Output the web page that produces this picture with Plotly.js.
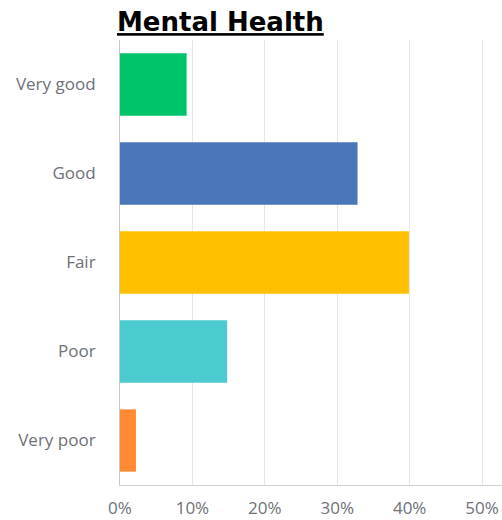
<!DOCTYPE html>
<html>
<head>
<meta charset="utf-8">
<script src="https://cdn.plot.ly/plotly-3.0.1.min.js"></script>
<style>
  html, body { margin: 0; padding: 0; background: #fff; }
  #chart { width: 502px; height: 520px; }
</style>
</head>
<body>
<div id="chart"></div>
<script>
var categories = ["Very good", "Good", "Fair", "Poor", "Very poor"];
var percents = [9.2, 32.8, 39.9, 14.8, 2.2];
var barColors = ["#00C46A", "#4A76BA", "#FFC000", "#4BCBCF", "#FF8A33"];
var tickVals = [0, 10, 20, 30, 40, 50];
var tickText = ["0%", "10%", "20%", "30%", "40%", "50%"];

var data = [
  {
    type: "bar",
    orientation: "h",
    x: percents,
    y: categories,
    marker: { color: barColors, line: { width: 0 } },
    hoverinfo: "y+x"
  }
];

var layout = {
  width: 502,
  height: 520,
  margin: { l: 120, r: 0, t: 40, b: 35 },
  paper_bgcolor: "#fff",
  plot_bgcolor: "#fff",
  showlegend: false,
  bargap: 0.3,
  title: {
    text: "<b><u>Mental Health</u></b>",
    font: { family: "DejaVu Sans", size: 26, color: "#000" },
    xref: "container",
    x: 117 / 502,
    xanchor: "left",
    yref: "container",
    y: 1 - 22 / 520,
    yanchor: "middle"
  },
  xaxis: {
    range: [0, 52.75],
    tickvals: tickVals,
    ticktext: tickText,
    showgrid: true,
    gridcolor: "#E6E6E6",
    gridwidth: 1,
    zeroline: false,
    showline: true,
    linecolor: "#D0D0D0",
    linewidth: 1,
    ticks: "",
    ticklabelstandoff: 8,
    tickfont: { family: "Open Sans", size: 17, color: "#6D7178" },
    fixedrange: true
  },
  yaxis: {
    autorange: "reversed",
    showgrid: false,
    zeroline: false,
    showline: true,
    linecolor: "#C8C8C8",
    linewidth: 1,
    ticks: "",
    ticklabelstandoff: 20,
    tickfont: { family: "Open Sans", size: 17, color: "#6D7178" },
    fixedrange: true
  }
};

Plotly.newPlot("chart", data, layout, { displayModeBar: false, staticPlot: true });
</script>
</body>
</html>
